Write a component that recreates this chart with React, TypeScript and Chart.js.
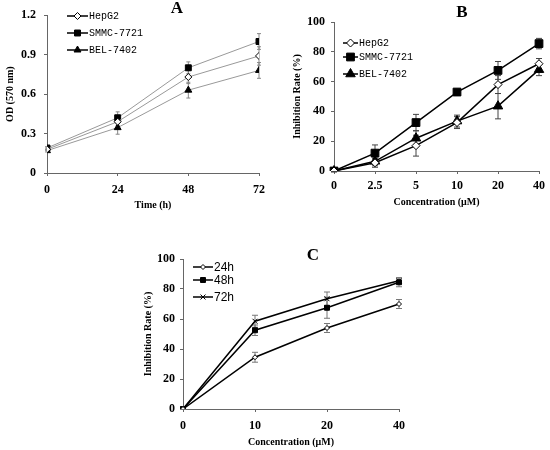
import React, { useEffect, useRef } from 'react';
import Chart from 'chart.js/auto';
import { drawPoint } from 'chart.js/helpers';

// panel A - OD (570 nm) against time
const timeHours = [0, 24, 48, 72];
const odTicks = [0, 0.3, 0.6, 0.9, 1.2];
const odHepG2 = [0.18, 0.39, 0.73, 0.89];
const odHepG2Err = [0.01, 0.03, 0.05, 0.07];
const odSmmc = [0.19, 0.42, 0.8, 1.0];
const odSmmcErr = [0.01, 0.045, 0.045, 0.06];
const odBel = [0.17, 0.345, 0.63, 0.78];
const odBelErr = [0.01, 0.05, 0.06, 0.06];

// panel B - inhibition against concentration
const concB = ['0', '2.5', '5', '10', '20', '40'];
const inhTicks = [0, 20, 40, 60, 80, 100];
const inhHepG2 = [0, 5.5, 17, 32.5, 58, 72];
const inhHepG2Err = [0.5, 3, 7, 4, 6, 3.5];
const inhSmmc = [0, 12, 32.5, 53, 67.5, 85.5];
const inhSmmcErr = [0.5, 5.5, 5.5, 2, 6, 3.5];
const inhBel = [0, 6.5, 22, 33.5, 43.5, 68];
const inhBelErr = [0.5, 3, 5, 4, 8.5, 4];

// panel C - inhibition by time point
const concC = ['0', '10', '20', '40'];
const inh24h = [0, 34.5, 54, 70];
const inh24hErr = [0, 3.3, 3, 3];
const inh48h = [0, 52.5, 67.5, 84.5];
const inh48hErr = [0, 3.5, 7, 3];
const inh72h = [0, 58.5, 73.5, 85.5];
const inh72hErr = [0, 4, 4.5, 2];

const axisColor = '#666';
const tickFont = { family: 'Liberation Serif', size: 12, weight: 'bold' as const };
const titleFont = { family: 'Liberation Serif', size: 10, weight: 'bold' as const };

const errorBars = {
  id: 'errorBars',
  beforeDatasetsDraw(chart: any, _args: any, opts: any) {
    const { ctx } = chart;
    ctx.save();
    ctx.strokeStyle = opts.color;
    ctx.lineWidth = 1;
    chart.data.datasets.forEach((ds: any, i: number) => {
      if (!ds.errors) return;
      const meta = chart.getDatasetMeta(i);
      const yScale = chart.scales[meta.yAxisID];
      meta.data.forEach((pt: any, j: number) => {
        const v = yScale.getValueForPixel(pt.y);
        const e = ds.errors[j];
        const top = yScale.getPixelForValue(v + e);
        const bot = yScale.getPixelForValue(v - e);
        const c = opts.cap / 2;
        ctx.beginPath();
        ctx.moveTo(pt.x, top);
        ctx.lineTo(pt.x, bot);
        ctx.moveTo(pt.x - c, top);
        ctx.lineTo(pt.x + c, top);
        ctx.moveTo(pt.x - c, bot);
        ctx.lineTo(pt.x + c, bot);
        ctx.stroke();
      });
    });
    ctx.restore();
  },
};

const lineLegend = {
  id: 'lineLegend',
  afterDraw(chart: any, _args: any, opts: any) {
    const { ctx } = chart;
    ctx.save();
    chart.data.datasets.forEach((ds: any, i: number) => {
      const y = opts.ys[i];
      ctx.strokeStyle = '#000';
      ctx.lineWidth = 1.5;
      ctx.beginPath();
      ctx.moveTo(opts.x0, y);
      ctx.lineTo(opts.x1, y);
      ctx.stroke();
      ctx.fillStyle = ds.pointBackgroundColor;
      ctx.strokeStyle = '#000';
      ctx.lineWidth = 1;
      drawPoint(ctx, { pointStyle: ds.pointStyle, radius: ds.pointRadius, borderWidth: 1, rotation: 0 }, (opts.x0 + opts.x1) / 2, y);
      ctx.fillStyle = '#000';
      ctx.font = opts.font;
      ctx.textAlign = 'left';
      ctx.textBaseline = 'middle';
      ctx.fillText(ds.label, opts.textX, y + 0.5);
    });
    ctx.restore();
  },
};

const panelLetter = {
  id: 'panelLetter',
  afterDraw(chart: any, _args: any, opts: any) {
    const { ctx } = chart;
    ctx.save();
    ctx.fillStyle = '#000';
    ctx.font = 'bold 17px "Liberation Serif"';
    ctx.textAlign = 'center';
    ctx.textBaseline = 'middle';
    ctx.fillText(opts.text, opts.x, opts.y);
    ctx.restore();
  },
};

function xAxis(title: string, height: number, titleBottom: number, tickPad: number, extra: any = {}) {
  return {
    ...extra,
    afterFit: (s: any) => { s.height = height; },
    grid: { drawOnChartArea: false, tickLength: 3, color: axisColor },
    border: { color: axisColor },
    ticks: { ...(extra.ticks || {}), font: tickFont, color: '#000', padding: tickPad, maxRotation: 0, autoSkip: false },
    title: { display: true, text: title, font: titleFont, color: '#000', padding: { top: 0, bottom: titleBottom } },
  };
}

function yAxis(title: string, width: number, titleTop: number, tickPad: number, tickList: number[]) {
  return {
    min: tickList[0],
    max: tickList[tickList.length - 1],
    afterBuildTicks: (s: any) => { s.ticks = tickList.map((v) => ({ value: v })); },
    afterFit: (s: any) => { s.width = width; },
    grid: { drawOnChartArea: false, tickLength: 3, color: axisColor },
    border: { color: axisColor },
    ticks: { font: tickFont, color: '#000', padding: tickPad, callback: (v: any) => String(v) },
    title: { display: true, text: title, font: titleFont, color: '#000', padding: { top: titleTop, bottom: 0 } },
  };
}

function series(label: string, data: any[], errors: number[], style: string, radius: number, fill: string, line: string, lw: number) {
  return {
    label,
    data,
    errors,
    borderColor: line,
    borderWidth: lw,
    pointStyle: style,
    pointRadius: radius,
    pointBackgroundColor: fill,
    pointBorderColor: '#000',
    pointBorderWidth: 1,
    tension: 0,
    fill: false,
  };
}

const xy = (xs: number[], ys: number[]) => xs.map((x, i) => ({ x, y: ys[i] }));

function configA(): any {
  return {
    type: 'line',
    data: {
      datasets: [
        series('HepG2', xy(timeHours, odHepG2), odHepG2Err, 'rectRot', 3.5, '#fff', '#999', 1),
        series('SMMC-7721', xy(timeHours, odSmmc), odSmmcErr, 'rect', 4.2, '#000', '#999', 1),
        series('BEL-7402', xy(timeHours, odBel), odBelErr, 'triangle', 4, '#000', '#999', 1),
      ],
    },
    options: {
      responsive: false,
      animation: false,
      layout: { padding: { left: 0, top: 8, right: 16, bottom: 0 } },
      scales: {
        x: xAxis('Time (h)', 42, 3.4, 7, {
          type: 'linear',
          min: timeHours[0],
          max: timeHours[timeHours.length - 1],
          afterBuildTicks: (s: any) => { s.ticks = timeHours.map((v) => ({ value: v })); },
          ticks: { callback: (v: any) => String(v) },
        }),
        y: yAxis('OD (570 nm)', 47, 4, 8, odTicks),
      },
      plugins: {
        legend: { display: false },
        tooltip: { enabled: false },
        errorBars: { color: '#888', cap: 4 },
        lineLegend: { x0: 67, x1: 88, textX: 89, ys: [16, 33, 50], font: '10px "Liberation Mono"' },
        panelLetter: { text: 'A', x: 177, y: 9 },
      },
    },
    plugins: [errorBars, lineLegend, panelLetter],
  };
}

function configB(): any {
  return {
    type: 'line',
    data: {
      labels: concB,
      datasets: [
        series('HepG2', inhHepG2, inhHepG2Err, 'rectRot', 4, '#fff', '#000', 1.5),
        series('SMMC-7721', inhSmmc, inhSmmcErr, 'rect', 5.5, '#000', '#000', 1.5),
        series('BEL-7402', inhBel, inhBelErr, 'triangle', 5.5, '#000', '#000', 1.5),
      ],
    },
    options: {
      responsive: false,
      animation: false,
      layout: { padding: { left: 0, top: 22, right: 8, bottom: 0 } },
      scales: {
        x: xAxis('Concentration (μM)', 44, 6.4, 5, { offset: false }),
        y: yAxis('Inhibition Rate (%)', 59, 16, 6, inhTicks),
      },
      plugins: {
        legend: { display: false },
        tooltip: { enabled: false },
        errorBars: { color: '#444', cap: 6 },
        lineLegend: { x0: 68, x1: 83, textX: 84, ys: [43, 57, 74], font: '10px "Liberation Mono"' },
        panelLetter: { text: 'B', x: 187, y: 13 },
      },
    },
    plugins: [errorBars, lineLegend, panelLetter],
  };
}

function configC(): any {
  return {
    type: 'line',
    data: {
      labels: concC,
      datasets: [
        series('24h', inh24h, inh24hErr, 'rectRot', 2.5, '#fff', '#000', 1.5),
        series('48h', inh48h, inh48hErr, 'rect', 3.5, '#000', '#000', 1.5),
        series('72h', inh72h, inh72hErr, 'crossRot', 3.5, '#000', '#000', 1.5),
      ],
    },
    options: {
      responsive: false,
      animation: false,
      layout: { padding: { left: 140, top: 34, right: 151, bottom: 0 } },
      scales: {
        x: xAxis('Concentration (μM)', 41, 1.4, 7, { offset: false }),
        y: yAxis('Inhibition Rate (%)', 43, 2, 5, inhTicks),
      },
      plugins: {
        legend: { display: false },
        tooltip: { enabled: false },
        errorBars: { color: '#777', cap: 6 },
        lineLegend: { x0: 193, x1: 213, textX: 214, ys: [42, 55, 72], font: '12px "Liberation Sans"' },
        panelLetter: { text: 'C', x: 313, y: 31 },
      },
    },
    plugins: [errorBars, lineLegend, panelLetter],
  };
}

function Panel({ make, left, top, width, height }: { make: () => any; left: number; top: number; width: number; height: number }) {
  const ref = useRef<HTMLCanvasElement>(null);

  useEffect(() => {
    if (!ref.current) return;
    const chart = new Chart(ref.current, make());
    return () => {
      chart.destroy();
    };
  }, [make]);

  return (
    <canvas
      ref={ref}
      width={width}
      height={height}
      style={{ position: 'absolute', left, top, width, height }}
    />
  );
}

export default function App() {
  return (
    <div style={{ position: 'absolute', left: 0, top: 0, width: 550, height: 450, background: '#fff' }}>
      <Panel make={configA} left={0} top={0} width={275} height={215} />
      <Panel make={configB} left={275} top={0} width={275} height={215} />
      <Panel make={configC} left={0} top={225} width={550} height={225} />
    </div>
  );
}
